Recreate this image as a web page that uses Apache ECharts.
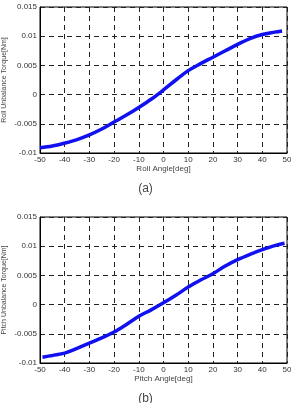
<!DOCTYPE html>
<html>
<head>
<meta charset="utf-8">
<script src="https://cdn.jsdelivr.net/npm/echarts@6/dist/echarts.min.js"></script>
<style>
  html, body { margin: 0; padding: 0; background: #fff; }
  #main { width: 291px; height: 403px; }
</style>
</head>
<body>
<div id="main"></div>
<script>
// angles [deg] and unbalance torque [Nm]
var rollAngle = [-50, -45, -40, -35, -30, -25, -20, -15, -10, -5, 0, 5, 10, 15, 20, 25, 30, 35, 40, 45, 48];
var rollTorque = [-0.0091, -0.0088, -0.0083, -0.0077, -0.0069, -0.0059, -0.0047, -0.0035, -0.0022, -0.0008, 0.0008,
  0.0025, 0.0041, 0.0053, 0.0064, 0.0075, 0.0086, 0.0096, 0.0103, 0.0107, 0.0109];
var pitchAngle = [-49, -45, -40, -35, -30, -25, -20, -15, -10, -5, 0, 5, 10, 15, 20, 25, 30, 35, 40, 45, 49];
var pitchTorque = [-0.009, -0.0087, -0.0083, -0.0075, -0.0066, -0.0057, -0.0047, -0.0034, -0.002, -0.0009, 0.0003,
  0.0016, 0.003, 0.0042, 0.0053, 0.0066, 0.0077, 0.0086, 0.0094, 0.0101, 0.0105];
var xTicks = [-50, -40, -30, -20, -10, 0, 10, 20, 30, 40, 50];
var yTicks = [-0.01, -0.005, 0, 0.005, 0.01, 0.015];

var chart = echarts.init(document.getElementById('main'));

function pairs(xs, ys) {
  return xs.map(function (x, i) { return [x, ys[i]]; });
}

var font = 'Liberation Sans, Arial, sans-serif';
var dash = { color: '#222', width: 1, type: [5, 4] };

function xAxisFor(idx, name) {
  return {
    type: 'value', gridIndex: idx, min: xTicks[0], max: xTicks[xTicks.length - 1], interval: 10,
    name: name, nameLocation: 'middle', nameGap: 12, nameMoveOverlap: false,
    nameTextStyle: { fontSize: 8, color: '#444', fontFamily: font },
    axisLine: { show: true, onZero: false, lineStyle: { color: '#000' } },
    axisTick: { show: false },
    axisLabel: { fontSize: 8, color: '#333', fontFamily: font, margin: 3 },
    splitLine: { show: true, lineStyle: dash }
  };
}

function yAxisFor(idx, name) {
  return {
    type: 'value', gridIndex: idx, min: yTicks[0], max: yTicks[yTicks.length - 1], interval: 0.005,
    name: name, nameLocation: 'middle', nameGap: 32, nameMoveOverlap: false,
    nameTextStyle: { fontSize: 7, color: '#444', fontFamily: font },
    axisLine: { show: true, onZero: false, lineStyle: { color: '#000' } },
    axisTick: { show: false },
    axisLabel: {
      fontSize: 8, color: '#333', fontFamily: font, margin: 3,
      formatter: function (v) { return String(parseFloat(v.toFixed(3))); }
    },
    splitLine: { show: true, lineStyle: dash }
  };
}

function seriesFor(idx, xs, ys) {
  return {
    type: 'line', xAxisIndex: idx, yAxisIndex: idx,
    data: pairs(xs, ys), smooth: 0.35, showSymbol: false,
    lineStyle: { color: '#1010f0', width: 3.5 },
    animation: false
  };
}

chart.setOption({
  backgroundColor: '#fff',
  title: [
    { text: '(a)', left: 'center', top: 178, textStyle: { fontSize: 12, fontWeight: 'normal', color: '#444', fontFamily: font } },
    { text: '(b)', left: 'center', top: 388, textStyle: { fontSize: 12, fontWeight: 'normal', color: '#444', fontFamily: font } }
  ],
  grid: [
    { left: 40, top: 7, width: 247, height: 146, show: true, borderColor: '#000', borderWidth: 1, containLabel: false, outerBoundsMode: 'none' },
    { left: 40, top: 217, width: 247, height: 146, show: true, borderColor: '#000', borderWidth: 1, containLabel: false, outerBoundsMode: 'none' }
  ],
  xAxis: [xAxisFor(0, 'Roll Angle[deg]'), xAxisFor(1, 'Pitch Angle[deg]')],
  yAxis: [yAxisFor(0, 'Roll Unbalance Torque[Nm]'), yAxisFor(1, 'Pitch Unbalance Torque[Nm]')],
  series: [seriesFor(0, rollAngle, rollTorque), seriesFor(1, pitchAngle, pitchTorque)]
});
</script>
</body>
</html>
